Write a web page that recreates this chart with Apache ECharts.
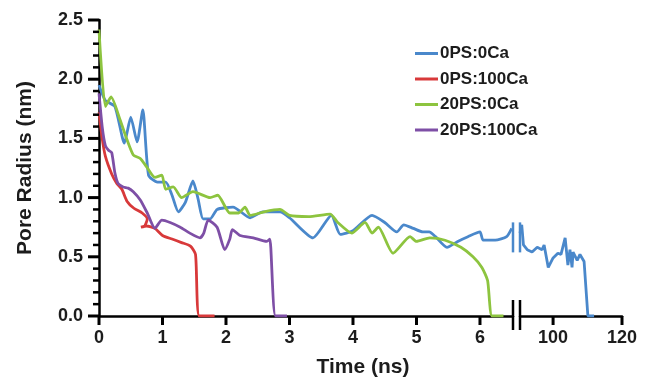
<!DOCTYPE html>
<html>
<head>
<meta charset="utf-8">
<script src="https://cdn.jsdelivr.net/npm/echarts@6/dist/echarts.min.js"></script>
<style>
  html, body { margin: 0; padding: 0; background: #fff; }
  #chart { width: 650px; height: 380px; }
</style>
</head>
<body>
<div id="chart"></div>
<script>
var names = ['0PS:0Ca', '0PS:100Ca', '20PS:0Ca', '20PS:100Ca'];
var colors = ['#4a88cb', '#d8393a', '#8dc43f', '#7e4fa6'];

// 0PS:0Ca, first part (0 - 6.5 ns)
var blueTime = [0, 0.1, 0.25, 0.4, 0.5, 0.6, 0.69, 0.78, 0.92, 1.05, 1.15, 1.25, 1.36, 1.48, 1.56, 1.64, 1.75, 1.86, 2.11, 2.38, 2.58, 2.85, 3.0, 3.37, 3.66, 3.8, 4.0, 4.3, 4.5, 4.69, 4.8, 4.95, 5.1, 5.2, 5.3, 5.48, 5.65, 5.81, 6.0, 6.05, 6.24, 6.42, 6.5];
var blueRadius = [1.95, 1.82, 1.77, 1.46, 1.68, 1.47, 1.74, 1.19, 1.13, 1.13, 1.02, 0.88, 0.96, 1.14, 0.99, 0.82, 0.82, 0.9, 0.92, 0.83, 0.88, 0.88, 0.83, 0.66, 0.85, 0.69, 0.72, 0.85, 0.79, 0.71, 0.77, 0.74, 0.71, 0.71, 0.67, 0.58, 0.63, 0.67, 0.71, 0.64, 0.64, 0.67, 0.74];
// 0PS:0Ca, after the axis break
var blueTime2 = [90.4, 90.9, 91.4, 92.5, 93.9, 95.4, 96.8, 97.4, 98.6, 100.0, 101.4, 102.3, 103.5, 104.3, 104.9, 105.5, 105.8, 107.0, 107.8, 109.0, 110.1, 111.9];
var blueRadius2 = [0.7, 0.77, 0.6, 0.56, 0.54, 0.58, 0.56, 0.6, 0.41, 0.49, 0.53, 0.52, 0.66, 0.43, 0.56, 0.41, 0.54, 0.47, 0.52, 0.46, 0.0, 0.0];

var redTime = [0, 0.05, 0.1, 0.2, 0.28, 0.36, 0.44, 0.55, 0.68, 0.76, 0.72, 0.66, 0.75, 0.88, 1.0, 1.15, 1.3, 1.44, 1.52, 1.58, 1.82];
var redRadius = [1.72, 1.5, 1.35, 1.2, 1.12, 1.07, 0.97, 0.91, 0.87, 0.82, 0.76, 0.75, 0.76, 0.74, 0.68, 0.65, 0.62, 0.59, 0.52, 0.0, 0.0];

var greenTime = [0, 0.1, 0.19, 0.33, 0.44, 0.54, 0.65, 0.75, 0.88, 0.99, 1.05, 1.17, 1.3, 1.48, 1.75, 1.87, 2.06, 2.2, 2.3, 2.38, 2.6, 2.85, 3.0, 3.3, 3.64, 3.76, 3.98, 4.19, 4.3, 4.4, 4.63, 4.9, 5.0, 5.21, 5.45, 5.7, 5.89, 6.03, 6.12, 6.19, 6.37];
var greenRadius = [2.42, 1.77, 1.85, 1.66, 1.49, 1.36, 1.33, 1.26, 1.17, 1.19, 1.07, 1.09, 1.0, 1.05, 1.0, 1.02, 0.87, 0.87, 0.92, 0.85, 0.88, 0.9, 0.85, 0.84, 0.86, 0.79, 0.7, 0.79, 0.7, 0.75, 0.53, 0.67, 0.63, 0.66, 0.64, 0.58, 0.5, 0.41, 0.3, 0.0, 0.0];

var purpleTime = [0, 0.05, 0.1, 0.15, 0.2, 0.25, 0.3, 0.38, 0.46, 0.54, 0.65, 0.76, 0.88, 0.99, 1.12, 1.28, 1.43, 1.59, 1.65, 1.72, 1.86, 1.98, 2.06, 2.1, 2.22, 2.43, 2.64, 2.69, 2.78, 2.96];
var purpleRadius = [1.88, 1.6, 1.44, 1.4, 1.38, 1.21, 1.12, 1.09, 1.08, 1.05, 0.98, 0.87, 0.74, 0.81, 0.79, 0.75, 0.7, 0.66, 0.7, 0.81, 0.75, 0.56, 0.65, 0.73, 0.68, 0.66, 0.63, 0.65, 0.0, 0.0];

var xTicksLeft = [0, 1, 2, 3, 4, 5, 6];
var xTicksRight = [100, 120];
var yTicks = [0, 0.5, 1, 1.5, 2, 2.5];

function pairs(xs, ys) {
    return xs.map(function (x, i) { return [x, ys[i]]; });
}

var font = "'Liberation Sans', Arial, sans-serif";
var labelStyle = { color: '#1c1c1c', fontFamily: font, fontWeight: 'bold', fontSize: 18 };

function axisLine() {
    return { show: true, onZero: false, lineStyle: { color: '#000', width: 2.5 } };
}

var chartDom = document.getElementById('chart');
var myChart = echarts.init(chartDom);

function lineSeries(name, data, color, xi, smooth) {
    return {
        name: name,
        type: 'line',
        xAxisIndex: xi,
        yAxisIndex: xi,
        data: data,
        smooth: smooth,
        symbol: 'none',
        animation: false,
        lineStyle: { color: color, width: 2.8 },
        itemStyle: { color: color }
    };
}

var option = {
    backgroundColor: '#fff',
    animation: false,
    legend: {
        data: names,
        orient: 'vertical',
        left: 410,
        top: 40,
        icon: 'rect',
        itemWidth: 23,
        itemHeight: 3,
        itemGap: 8.5,
        selectedMode: false,
        textStyle: { color: '#1c1c1c', fontFamily: font, fontWeight: 'bold', fontSize: 17, lineHeight: 17, padding: [0, 0, 0, -3] }
    },
    grid: [
        { left: 99, top: 20, width: 414, height: 296 },
        { left: 520, top: 20, width: 102, height: 296 }
    ],
    xAxis: [
        {
            type: 'value', gridIndex: 0, min: 0, max: 6.52,
            axisLine: axisLine(),
            axisTick: { show: false },
            axisLabel: Object.assign({ margin: 13, customValues: xTicksLeft }, labelStyle),
            splitLine: { show: false }
        },
        {
            type: 'value', gridIndex: 1, min: 90.4, max: 120,
            axisLine: axisLine(),
            axisTick: { show: false },
            axisLabel: Object.assign({ margin: 13, customValues: xTicksRight }, labelStyle),
            splitLine: { show: false }
        }
    ],
    yAxis: [
        {
            type: 'value', gridIndex: 0, min: 0, max: 2.5, interval: 0.5,
            name: 'Pore Radius (nm)',
            nameLocation: 'middle',
            nameGap: 63,
            nameTextStyle: { color: '#1c1c1c', fontFamily: font, fontWeight: 'bold', fontSize: 21 },
            axisLine: axisLine(),
            axisTick: { show: false },
            axisLabel: Object.assign({ margin: 16, formatter: function (v) { return v.toFixed(1); } }, labelStyle),
            splitLine: { show: false }
        },
        {
            type: 'value', gridIndex: 1, min: 0, max: 2.5, show: false
        }
    ],
    series: [
        lineSeries(names[0], pairs(blueTime, blueRadius), colors[0], 0, 0.2),
        lineSeries(names[1], pairs(redTime, redRadius), colors[1], 0, 0.2),
        lineSeries(names[2], pairs(greenTime, greenRadius), colors[2], 0, 0.2),
        lineSeries(names[3], pairs(purpleTime, purpleRadius), colors[3], 0, 0.2),
        lineSeries(names[0], pairs(blueTime2, blueRadius2), colors[0], 1, false)
    ],
    graphic: [
        {
            type: 'text', x: 363, y: 367,
            style: { text: 'Time (ns)', fill: '#1c1c1c', font: 'bold 21px ' + font, align: 'center', verticalAlign: 'middle' }
        }
    ]
};
myChart.setOption(option);

// ticks and axis-break marks, placed through the axes' own scales
var y0 = myChart.convertToPixel({ yAxisIndex: 0 }, 0);
var yAxisX = myChart.convertToPixel({ xAxisIndex: 0 }, 0);
var xa = myChart.convertToPixel({ xAxisIndex: 0 }, 6.52);
var xb = myChart.convertToPixel({ xAxisIndex: 1 }, 90.4);
var yb = myChart.convertToPixel({ yAxisIndex: 0 }, blueRadius[blueRadius.length - 1]);
var deco = [];
function tick(x1, y1, x2, y2, w, c) {
    deco.push({ type: 'line', shape: { x1: x1, y1: y1, x2: x2, y2: y2 }, style: { stroke: c || '#000', lineWidth: w }, z: 10 });
}
xTicksLeft.forEach(function (v) {
    var x = myChart.convertToPixel({ xAxisIndex: 0 }, v);
    tick(x, y0, x, y0 + 9, 3);
});
xTicksRight.forEach(function (v) {
    var x = myChart.convertToPixel({ xAxisIndex: 1 }, v);
    tick(x, y0, x, y0 + 9, 3);
});
for (var k = 0; k < yTicks.length; k++) {
    var py = myChart.convertToPixel({ yAxisIndex: 0 }, yTicks[k]);
    tick(yAxisX - 11, py, yAxisX, py, 3);
    if (k < yTicks.length - 1) {
        // minor ticks every 0.1
        for (var m = 1; m < 5; m++) {
            var pm = myChart.convertToPixel({ yAxisIndex: 0 }, yTicks[k] + m * 0.1);
            tick(yAxisX - 6, pm, yAxisX, pm, 2.5);
        }
    }
}
[xa, xb].forEach(function (x) {
    tick(x, y0 - 16, x, y0 + 14, 2.5);
    tick(x, yb - 6, x, yb + 24, 2.5, colors[0]);
});
myChart.setOption({ graphic: option.graphic.concat(deco) });
</script>
</body>
</html>
